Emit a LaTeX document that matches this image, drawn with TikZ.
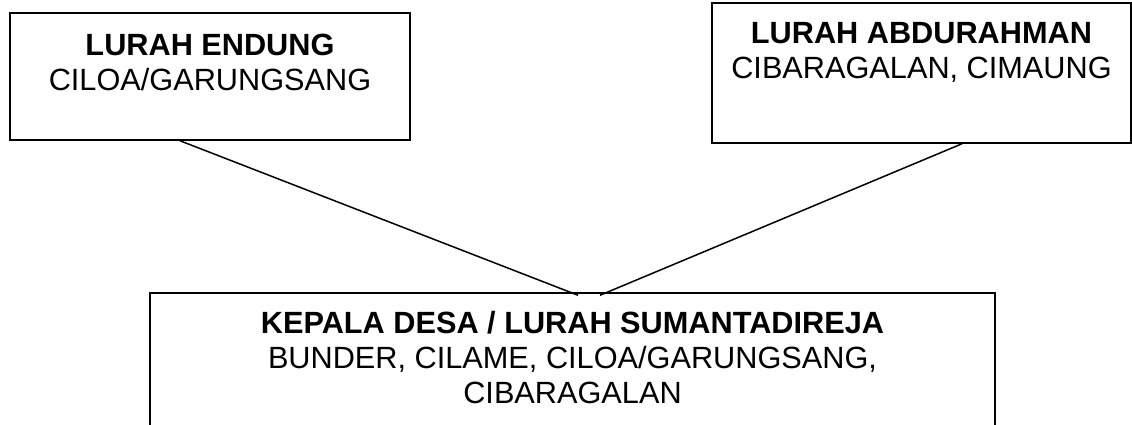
\documentclass[tikz,border=0pt]{standalone}
\usepackage{fontspec}
\setmainfont{Liberation Sans}
\begin{document}
\begin{tikzpicture}[x=1pt,y=-1pt,line width=1.5pt,
 box/.style={draw,rectangle,inner sep=0pt},
 lbl/.style={align=center,inner sep=0pt,anchor=north,font=\fontsize{30.7}{35}\selectfont}]
 \useasboundingbox (0,0) rectangle (1132,424);
 \clip (0,0) rectangle (1132,424);
 % the three boxes
 \node [box,minimum width=400pt,minimum height=127pt] (endung) at (210,76.5) {};
 \node [box,minimum width=419pt,minimum height=140pt] (abdul) at (921.5,73) {};
 \node [box,minimum width=845pt,minimum height=177pt] (desa) at (572.5,381.5) {};
 \node [lbl] (endungtxt) at (210,33) {\textbf{LURAH ENDUNG}\\CILOA/GARUNGSANG};
 \node [lbl] (abdultxt) at (921.5,22) {\textbf{LURAH ABDURAHMAN}\\CIBARAGALAN, CIMAUNG};
 \node [lbl] (desatxt) at (572.5,310) {\textbf{KEPALA DESA / LURAH SUMANTADIREJA}\\
  BUNDER, CILAME, CILOA/GARUNGSANG,\\CIBARAGALAN};
 % connectors
 \draw ([xshift=-30pt]endung.south) -- ([xshift=5.5pt,yshift=-3pt]desa.north);
 \draw ([xshift=40.5pt]abdul.south) -- ([xshift=27.5pt,yshift=-3pt]desa.north);
\end{tikzpicture}
\end{document}
